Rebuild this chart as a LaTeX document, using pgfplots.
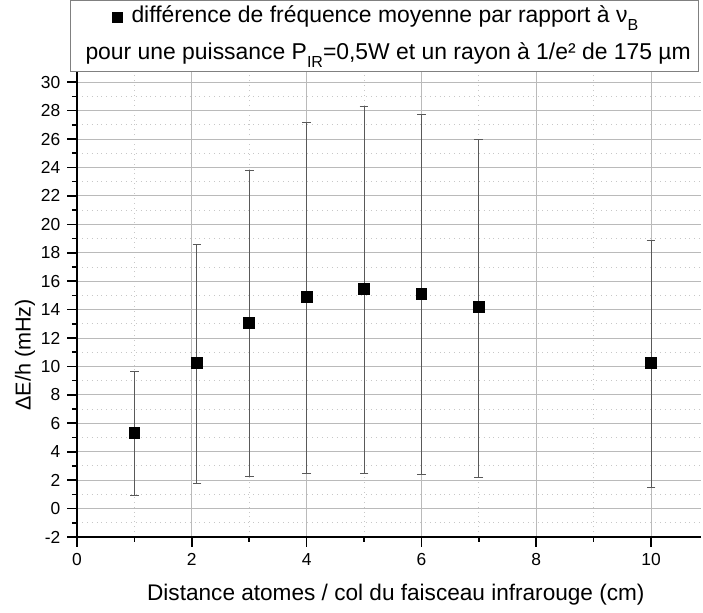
\documentclass[border=0pt]{standalone}
\usepackage{pgfplots}
\pgfplotsset{compat=1.18}
\usepackage{pgfplotstable}
\usepackage{fontspec}
\setmainfont{Liberation Sans}

\pgfplotstableread{
x     y      ep     em
1     5.33   4.34   4.40
2.09  10.23  8.38   8.46
3     13.08  10.72  10.84
4     14.90  12.29  12.43
5     15.44  12.87  12.94
6     15.09  12.63  12.71
7     14.18  11.82  12.01
10    10.23  8.64   8.76
}\datatable

\begin{document}
\begin{tikzpicture}
\begin{axis}[
  name=ax,
  scale only axis,
  width=312pt, height=234.5pt,
  xmin=0, xmax=10.87,
  ymin=-2, ymax=31,
  xtick={0,2,...,10},
  ytick={-2,0,...,30},
  minor x tick num=1,
  minor y tick num=1,
  axis lines*=left,
  axis line style={line width=1pt, -},
  tick align=outside,
  major tick length=4.8pt,
  minor tick length=2.5pt,
  every tick/.style={black, line width=0.8pt},
  grid=both,
  major grid style={draw=black!27, line width=0.5pt, solid},
  minor grid style={draw=black!22, line width=0.45pt, dotted},
  /pgf/number format/assume math mode=true,
  tick label style={font=\fontsize{8.7}{10}\selectfont},
  xlabel={Distance atomes / col du faisceau infrarouge (cm)},
  ylabel={ΔE/h (mHz)},
  xlabel style={font=\fontsize{11.3}{13}\selectfont, at={(axis description cs:0.511,-0.1237)}, anchor=center},
  ylabel style={font=\fontsize{10.8}{13}\selectfont, at={(axis description cs:-0.0833,0.388)}, anchor=center},
  legend cell align=left,
  legend style={
    at={(axis description cs:-0.01122,0.99147)}, anchor=south west,
    draw=black!50, line width=0.5pt, fill=white,
    inner xsep=2pt, inner ysep=0pt,
    row sep=1.5pt,
    font=\fontsize{11.45}{13}\selectfont,
    nodes={inner sep=2pt, text height=9pt, text depth=4pt},
  },
]
\addplot[
  forget plot,
  only marks,
  mark=square*,
  mark size=2.7pt,
  mark options={black, fill=black},
  error bars/.cd,
    y dir=both, y explicit,
    error bar style={black!65, line width=0.5pt},
    error mark options={rotate=90, black!65, line width=0.5pt, mark size=2.2pt},
] table[x=x, y=y, y error plus=ep, y error minus=em] {\datatable};
\addlegendimage{only marks, mark=square*, black,
  legend image code/.code={\path[draw=none,fill=none] (0pt,-0.1pt) rectangle (26.5pt,0.1pt); \draw[only marks, mark=square*, mark size=2.7pt, black, fill=black] plot coordinates {(21.5pt,0pt)};}}
\addlegendentry{\rule{0pt}{12pt}différence de fréquence moyenne par rapport à ν\raisebox{-0.7ex}{\fontsize{8}{9}\selectfont B}}
\addlegendimage{empty legend}
\addlegendentry{\hspace*{-23pt}pour une puissance P\raisebox{-0.7ex}{\fontsize{8}{9}\selectfont IR}=0,5W et un rayon à 1/e² de 175 µm}
\end{axis}
\pgfresetboundingbox
\path[use as bounding box] ([xshift=-38.5pt,yshift=-38pt]ax.south west) rectangle ([xshift=1pt,yshift=34pt]ax.north east);
\end{tikzpicture}
\end{document}
